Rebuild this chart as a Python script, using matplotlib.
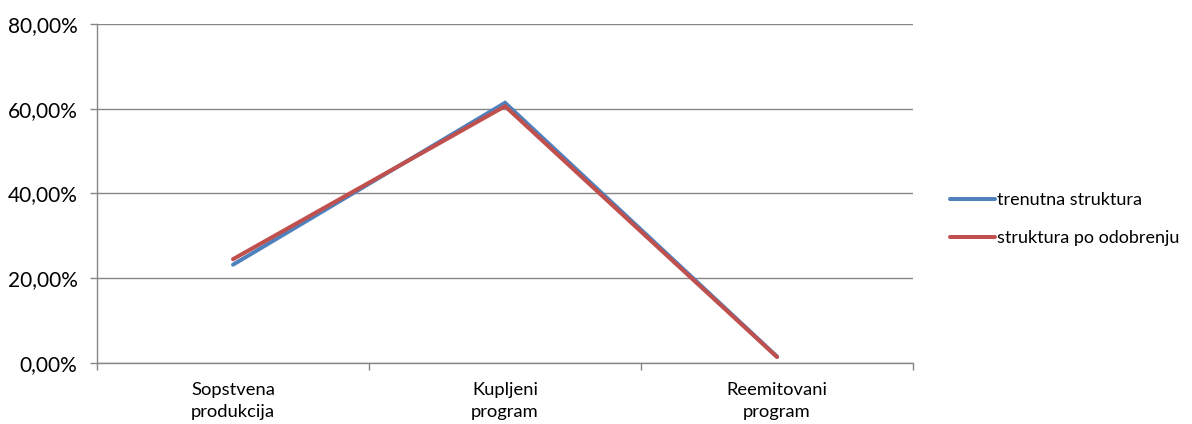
import matplotlib.pyplot as plt
from matplotlib.ticker import FuncFormatter, FixedLocator

categories = ["Sopstvena\nprodukcija", "Kupljeni\nprogram", "Reemitovani\nprogram"]
trenutna = [23.2, 61.4, 1.5]
po_odobrenju = [24.5, 60.6, 1.4]
series_names = ["trenutna struktura", "struktura po odobrenju"]

plt.rcParams['font.family'] = ['Lato', 'DejaVu Sans']

fig = plt.figure(figsize=(11.92, 4.24), dpi=100)
ax = fig.add_axes([0.0814, 0.1439, 0.6846, 0.7995])

x = list(range(len(categories)))
ax.plot(x, trenutna, color="#4F81BD", lw=2.9, solid_capstyle="round",
        solid_joinstyle="miter", label=series_names[0], zorder=3)
ax.plot(x, po_odobrenju, color="#C0504D", lw=2.9, solid_capstyle="round",
        solid_joinstyle="miter", label=series_names[1], zorder=4)

ax.set_xlim(-0.5, len(categories) - 0.5)
ax.set_ylim(0, 80)
ax.set_yticks([0, 20, 40, 60, 80])
ax.yaxis.set_major_formatter(FuncFormatter(lambda v, p: f"{v:.2f}".replace(".", ",") + "%"))
ax.grid(axis="y", color="#868686", lw=1.0)
ax.set_axisbelow(True)

ax.xaxis.set_major_locator(FixedLocator([-0.5, 0.5, 1.5, 2.5]))
ax.xaxis.set_major_formatter(FuncFormatter(lambda v, p: ""))
ax.xaxis.set_minor_locator(FixedLocator(x))
ax.set_xticklabels(categories, minor=True, linespacing=1.4)
ax.tick_params(axis="x", which="minor", length=0, labelsize=13.2, pad=14)
ax.tick_params(axis="x", which="major", length=5, color="#868686", width=1)
ax.tick_params(axis="y", length=5, color="#868686", width=1, labelsize=15, pad=9)

for s in ["top", "right"]:
    ax.spines[s].set_visible(False)
for s in ["left", "bottom"]:
    ax.spines[s].set_color("#868686")
    ax.spines[s].set_linewidth(1.0)

fig.legend(loc="center left", bbox_to_anchor=(0.783, 0.483), frameon=False,
           fontsize=13, handlelength=2.5, handletextpad=0.15, labelspacing=1.2)

fig.savefig("out.png", dpi=100)
